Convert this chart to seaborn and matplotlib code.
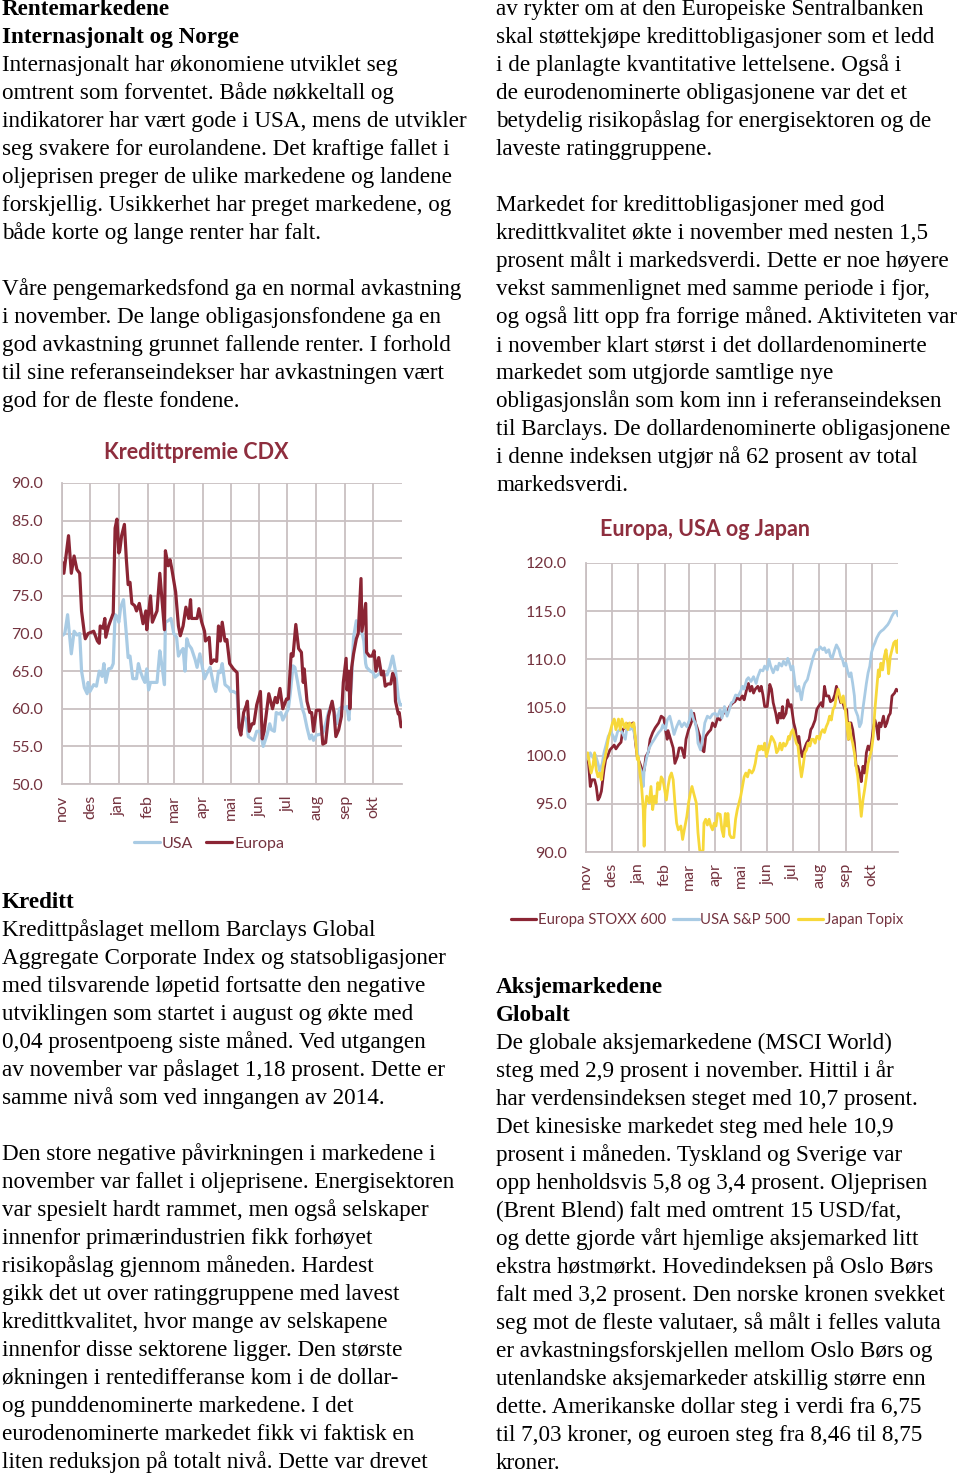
import matplotlib
matplotlib.use("Agg")
import matplotlib.pyplot as plt
import seaborn as sns
import numpy as np
from matplotlib.lines import Line2D

# ---------------- DATA ----------------
months = ["nov", "des", "jan", "feb", "mar", "apr", "mai", "jun", "jul", "aug", "sep", "okt"]
month_start_day = [0, 30, 61, 92, 120, 151, 181, 212, 242, 273, 304, 334]

# Kredittpremie CDX (day since 1 Nov, value)
cdx_europa = [
    (0, 79.5), (2, 78), (7, 83), (10, 78), (13, 80.3), (16, 78.5), (19, 78), (21, 73), (24, 70), (25, 69.3),
    (28, 70), (34, 70.3), (38, 69), (40, 68.7), (41, 71), (44, 70.7), (46, 72), (47, 69.5), (50, 71), (53, 72),
    (55, 72.7), (57, 84), (59, 85.2), (61, 80.7), (62, 81), (64, 83), (67, 84.5), (69, 80), (71, 76.5), (73, 76.8),
    (75, 74), (78, 73.7), (80, 73), (83, 74), (86, 72), (87, 71.3), (90, 73), (91, 70.5), (95, 75), (97, 71.5),
    (102, 73), (105, 78), (107, 75), (110, 70.5), (111, 81), (114, 79), (116, 79.8), (118, 78.5), (122, 75.5),
    (125, 71), (127, 69.7), (130, 71), (133, 73.5), (136, 72), (138, 74.5), (139, 72), (145, 72), (147, 73.3),
    (150, 71.5), (153, 70.3), (154, 69), (158, 69.5), (160, 66), (163, 66.5), (166, 66.3), (168, 71), (170, 69),
    (172, 71.5), (175, 69), (177, 69.2), (180, 66), (184, 65.3), (188, 64.8), (190, 57.5), (192, 56.5), (195, 59.5),
    (198, 60.5), (199, 61), (201, 57), (204, 58), (206, 58), (209, 60.5), (213, 62.3), (215, 56), (217, 57),
    (222, 62), (226, 60), (229, 61.5), (231, 60.8), (234, 62.7), (237, 60), (241, 61.3), (243, 61.3), (246, 67.3),
    (248, 67), (251, 71.2), (254, 68), (257, 67.5), (259, 63.5), (260, 65.3), (263, 61), (266, 59.5), (268, 59.5),
    (270, 57), (273, 59.8), (277, 59.8), (280, 55.3), (283, 55.5), (286, 59), (290, 61), (292, 59.5), (294, 56.3),
    (297, 57.2), (300, 59), (302, 63.5), (305, 66.7), (306, 62.5), (308, 65), (309, 60), (311, 65.5), (313, 67.3),
    (316, 69.3), (318, 70), (321, 77.3), (322, 70.3), (326, 74), (327, 67.5), (330, 67), (333, 67), (335, 67.7),
    (337, 65), (340, 66.8), (343, 64.5), (345, 65), (347, 63), (350, 63.3), (353, 63.3), (355, 64.7), (357, 64),
    (358, 61), (361, 59.3), (362, 59.5), (364, 57.6),
]
cdx_usa = [
    (0, 69.7), (3, 70), (6, 72.5), (9, 68.5), (10, 67.3), (13, 70.3), (16, 69.8), (19, 70), (21, 65), (24, 62.8),
    (27, 62), (28, 63.5), (30, 62.3), (34, 63.2), (37, 63), (40, 65), (43, 64.3), (45, 66), (47, 63.5), (50, 65.3),
    (53, 65.4), (55, 66), (57, 72.5), (59, 72.3), (61, 71.5), (63, 73.5), (66, 74.5), (69, 70), (71, 66.8), (73, 67),
    (76, 64), (80, 64), (82, 66), (84, 65), (87, 64), (89, 63.5), (91, 65.3), (93, 62.5), (95, 63.5), (98, 63.5),
    (102, 63.5), (105, 67.7), (107, 66), (110, 63.2), (111, 71.5), (114, 71.7), (117, 72), (120, 70), (123, 69.5),
    (125, 67), (127, 67.5), (130, 68), (132, 65), (134, 69.3), (136, 68.5), (139, 68), (143, 66.5), (145, 65.5),
    (148, 67.3), (150, 66), (153, 64), (156, 64.8), (159, 65.5), (163, 63), (165, 62.3), (168, 65), (170, 64.8),
    (172, 66), (175, 63.2), (179, 62.8), (181, 62.3), (184, 62.3), (188, 62), (190, 57.5), (192, 57), (195, 59),
    (198, 58.5), (200, 56.3), (206, 55.8), (209, 57), (213, 57), (216, 55), (220, 56.5), (223, 58), (225, 57.2),
    (228, 57), (230, 59.5), (233, 59.3), (235, 59.5), (237, 58.5), (241, 59.5), (243, 60), (245, 62), (248, 65.7),
    (250, 65.5), (253, 63.5), (255, 62), (258, 60), (260, 59.3), (263, 57.5), (266, 56), (268, 56.5), (270, 55.8),
    (273, 56.5), (277, 56.6), (280, 56.8), (283, 58), (286, 59.5), (289, 60.5), (292, 59.8), (295, 58), (298, 60),
    (301, 60.3), (304, 60), (306, 60.3), (308, 58.5), (311, 64), (313, 69.5), (316, 71.7), (318, 71.3), (321, 70.7),
    (324, 69), (326, 66), (327, 65.5), (331, 65), (334, 64.8), (336, 64.2), (339, 64.5), (342, 64.8), (345, 64.5),
    (349, 64.5), (352, 65.5), (355, 67), (358, 65), (361, 61.5), (363, 60.5), (365, 60.5),
]

# Europa, USA og Japan (index, 1 Nov = 100)
stoxx600 = [
    (0, 100.0), (3, 99.2), (5, 96.8), (7, 97.5), (10, 97.5), (12, 96.8), (14, 95.4), (16, 95.7), (18, 96.3),
    (21, 98.5), (23, 99.6), (25, 99.9), (28, 100.6), (30, 100.8), (33, 101.1), (35, 100.7), (38, 101.1), (41, 101.4),
    (43, 102.7), (46, 103.0), (49, 103.3), (52, 103.2), (55, 103.4), (56, 103.0), (58, 101.3), (60, 99.9), (63, 99.2),
    (67, 98.2), (68, 98.5), (70, 99.9), (73, 100.4), (75, 101.7), (78, 102.4), (81, 102.9), (85, 103.4), (88, 104.1),
    (91, 103.9), (93, 102.7), (95, 101.7), (96, 102.6), (99, 101.7), (102, 100.8), (104, 99.2), (107, 99.9),
    (109, 100.8), (112, 100.8), (115, 99.8), (117, 101.7), (120, 102.7), (123, 103.4), (126, 104.4), (128, 103.4),
    (130, 102.9), (133, 102.0), (136, 100.6), (138, 100.4), (140, 102.0), (143, 102.4), (146, 102.7), (148, 103.4),
    (151, 103.0), (154, 103.9), (157, 103.7), (160, 104.3), (163, 104.6), (165, 104.4), (168, 105.1), (172, 105.5),
    (174, 105.6), (177, 106.0), (180, 105.8), (183, 106.2), (185, 105.8), (188, 106.9), (190, 107.5), (192, 106.7),
    (194, 107.2), (196, 106.5), (198, 106.9), (201, 107.2), (203, 106.7), (205, 107.2), (207, 106.3), (209, 105.1),
    (212, 105.1), (215, 107.4), (217, 106.9), (219, 105.5), (222, 104.4), (224, 103.4), (226, 104.4), (228, 103.9),
    (230, 105.1), (231, 103.9), (234, 104.4), (236, 105.8), (238, 105.1), (240, 105.3), (243, 103.4), (245, 102.7),
    (247, 101.3), (249, 102.0), (251, 100.6), (253, 99.9), (255, 100.6), (258, 101.3), (261, 101.7), (263, 102.7),
    (265, 103.0), (268, 103.7), (270, 104.8), (272, 105.1), (275, 105.5), (277, 105.1), (279, 107.2), (281, 106.2),
    (284, 106.2), (286, 105.6), (289, 105.8), (291, 106.3), (293, 107.2), (296, 106.2), (298, 105.5), (300, 105.6),
    (303, 104.8), (305, 104.8), (307, 101.7), (308, 103.4), (310, 103.4), (312, 102.7), (314, 101.3), (316, 98.9),
    (318, 98.9), (320, 98.2), (322, 97.3), (324, 98.9), (326, 98.2), (328, 100.3), (330, 101.0), (332, 100.6),
    (334, 101.3), (336, 102.7), (338, 103.7), (340, 103.0), (342, 101.7), (343, 103.4), (345, 103.0), (348, 104.1),
    (350, 103.0), (352, 103.4), (354, 104.1), (356, 104.4), (358, 106.2), (361, 106.5), (363, 106.9), (365, 106.7),
]
sp500 = [
    (0, 100.0), (3, 99.6), (5, 100.3), (8, 99.8), (11, 100.1), (14, 99.2), (16, 98.4), (19, 99.2), (21, 100.3),
    (24, 101.3), (26, 102.0), (29, 102.5), (32, 102.0), (34, 101.5), (37, 102.5), (40, 102.7), (43, 102.3),
    (46, 101.7), (48, 103.0), (51, 102.7), (54, 102.9), (56, 102.5), (60, 100.6), (62, 99.1), (65, 98.2), (67, 96.8),
    (68, 98.5), (71, 99.8), (74, 100.8), (77, 101.3), (80, 101.7), (82, 102.0), (85, 102.4), (88, 102.7), (90, 103.2),
    (93, 102.7), (95, 103.7), (98, 104.1), (100, 103.4), (103, 102.2), (106, 103.0), (109, 103.6), (112, 103.0),
    (115, 103.4), (118, 103.0), (121, 103.7), (123, 104.7), (126, 103.7), (128, 103.4), (130, 102.4), (131, 101.3),
    (134, 100.6), (137, 102.0), (139, 103.4), (142, 104.1), (145, 103.9), (148, 104.3), (151, 104.4), (154, 104.1),
    (157, 104.8), (159, 103.9), (162, 105.1), (165, 104.1), (167, 104.6), (170, 105.5), (172, 105.6), (175, 106.3),
    (178, 106.2), (181, 106.7), (183, 107.2), (185, 106.9), (188, 107.9), (190, 108.1), (193, 107.7), (196, 108.2),
    (199, 107.5), (201, 108.2), (204, 108.9), (207, 108.8), (209, 109.3), (212, 108.9), (214, 110.0), (216, 109.3),
    (219, 108.6), (222, 109.3), (224, 108.9), (226, 109.6), (229, 109.3), (231, 109.8), (234, 109.4), (236, 110.1),
    (238, 109.6), (240, 108.9), (242, 109.3), (244, 107.9), (245, 107.2), (247, 106.7), (249, 107.2), (252, 105.8),
    (254, 106.9), (256, 107.5), (259, 107.9), (261, 108.6), (264, 109.6), (266, 110.3), (269, 111.0), (272, 111.0),
    (274, 111.3), (277, 111.0), (279, 111.2), (281, 110.7), (284, 111.0), (286, 110.3), (288, 110.1), (291, 111.0),
    (293, 111.5), (296, 111.0), (298, 110.3), (300, 110.0), (302, 109.3), (304, 109.6), (306, 108.8), (308, 108.2),
    (310, 108.6), (312, 107.5), (314, 106.2), (315, 104.8), (318, 104.1), (320, 103.0), (322, 103.4), (324, 104.9),
    (326, 106.2), (328, 107.5), (330, 108.6), (332, 109.3), (334, 110.7), (336, 111.3), (338, 111.7), (340, 112.2),
    (343, 112.7), (345, 112.9), (348, 113.1), (351, 113.4), (353, 113.6), (355, 113.9), (358, 114.5), (360, 114.8),
    (363, 115.0), (365, 114.5),
]
topix = [
    (0, 100.0), (2, 100.3), (4, 99.2), (6, 98.2), (8, 98.9), (10, 100.3), (12, 98.5), (14, 97.8), (16, 98.2),
    (18, 97.5), (20, 98.9), (22, 99.7), (24, 100.6), (26, 101.7), (28, 102.4), (31, 103.4), (33, 103.8), (35, 102.7),
    (38, 103.8), (40, 102.7), (42, 103.8), (45, 102.9), (47, 103.4), (49, 102.7), (51, 103.4), (54, 103.0),
    (56, 103.4), (58, 101.7), (60, 99.6), (61, 99.9), (63, 98.2), (65, 96.8), (67, 94.4), (68, 90.6), (69, 94.4),
    (71, 95.8), (74, 95.1), (76, 96.8), (78, 94.4), (80, 95.8), (82, 95.1), (84, 97.2), (86, 96.5), (88, 97.8),
    (90, 97.5), (92, 96.5), (94, 95.4), (96, 96.8), (98, 97.8), (100, 98.2), (102, 97.5), (104, 95.1), (106, 93.0),
    (108, 92.3), (111, 92.7), (113, 91.3), (115, 92.3), (118, 93.7), (120, 95.1), (122, 96.1), (124, 96.8),
    (126, 96.1), (129, 95.1), (131, 92.0), (133, 90.2), (135, 90.0), (137, 90.2), (138, 93.0), (140, 93.4),
    (142, 92.8), (144, 93.4), (146, 92.7), (148, 92.3), (150, 93.0), (152, 92.7), (154, 94.0), (157, 93.9),
    (159, 92.3), (161, 91.6), (163, 94.0), (165, 92.7), (166, 94.0), (168, 91.8), (170, 91.5), (173, 91.5),
    (175, 93.4), (177, 94.4), (179, 95.1), (181, 95.8), (183, 96.8), (185, 97.8), (187, 98.2), (189, 97.8),
    (191, 98.5), (194, 98.2), (196, 98.5), (198, 99.2), (200, 100.3), (202, 101.0), (203, 100.6), (205, 101.0),
    (207, 100.6), (209, 101.3), (211, 99.9), (213, 100.6), (215, 101.3), (217, 102.0), (219, 101.7), (221, 101.3),
    (223, 100.3), (225, 100.6), (227, 101.3), (229, 100.6), (231, 101.3), (233, 101.0), (235, 101.3), (237, 102.0),
    (238, 101.7), (240, 102.4), (242, 102.7), (244, 102.0), (246, 101.3), (248, 101.0), (250, 99.2), (252, 97.8),
    (254, 98.9), (256, 100.3), (258, 100.6), (260, 101.3), (262, 101.0), (264, 101.7), (266, 101.7), (268, 101.3),
    (270, 102.0), (272, 102.0), (273, 101.7), (275, 102.4), (277, 102.7), (279, 102.4), (281, 103.0), (283, 103.4),
    (285, 104.1), (287, 103.7), (289, 104.8), (291, 105.1), (293, 106.2), (295, 106.9), (297, 106.2), (299, 105.5),
    (301, 106.2), (303, 105.1), (305, 103.4), (307, 101.7), (308, 103.4), (310, 102.0), (312, 101.3), (314, 100.3),
    (316, 98.9), (318, 97.8), (320, 95.8), (322, 93.7), (324, 95.4), (326, 96.5), (328, 97.8), (330, 99.2),
    (332, 99.9), (334, 100.6), (336, 102.0), (338, 104.8), (340, 106.9), (342, 108.9), (343, 108.2), (345, 109.6),
    (347, 108.9), (349, 110.3), (351, 111.0), (353, 109.6), (354, 108.5), (356, 110.3), (358, 111.0), (360, 111.7),
    (362, 111.9), (364, 110.7), (365, 112.0),
]

cdx_ticks = [50, 55, 60, 65, 70, 75, 80, 85, 90]
eq_ticks = [90, 95, 100, 105, 110, 115, 120]

# ---------------- TEXT ----------------
left_top = [
    ("Rentemarkedene", True), ("Internasjonalt og Norge", True),
    ("Internasjonalt har økonomiene utviklet seg", False),
    ("omtrent som forventet. Både nøkkeltall og", False),
    ("indikatorer har vært gode i USA, mens de utvikler", False),
    ("seg svakere for eurolandene. Det kraftige fallet i", False),
    ("oljeprisen preger de ulike markedene og landene", False),
    ("forskjellig. Usikkerhet har preget markedene, og", False),
    ("både korte og lange renter har falt.", False),
    ("", False),
    ("Våre pengemarkedsfond ga en normal avkastning", False),
    ("i november. De lange obligasjonsfondene ga en", False),
    ("god avkastning grunnet fallende renter. I forhold", False),
    ("til sine referanseindekser har avkastningen vært", False),
    ("god for de fleste fondene.", False),
]
left_bottom = [
    ("Kreditt", True),
    ("Kredittpåslaget mellom Barclays Global", False),
    ("Aggregate Corporate Index og statsobligasjoner", False),
    ("med tilsvarende løpetid fortsatte den negative", False),
    ("utviklingen som startet i august og økte med", False),
    ("0,04 prosentpoeng siste måned. Ved utgangen", False),
    ("av november var påslaget 1,18 prosent. Dette er", False),
    ("samme nivå som ved inngangen av 2014.", False),
    ("", False),
    ("Den store negative påvirkningen i markedene i", False),
    ("november var fallet i oljeprisene. Energisektoren", False),
    ("var spesielt hardt rammet, men også selskaper", False),
    ("innenfor primærindustrien fikk forhøyet", False),
    ("risikopåslag gjennom måneden. Hardest", False),
    ("gikk det ut over ratinggruppene med lavest", False),
    ("kredittkvalitet, hvor mange av selskapene", False),
    ("innenfor disse sektorene ligger. Den største", False),
    ("økningen i rentedifferanse kom i de dollar-", False),
    ("og punddenominerte markedene. I det", False),
    ("eurodenominerte markedet fikk vi faktisk en", False),
    ("liten reduksjon på totalt nivå. Dette var drevet", False),
]
right_top = [
    ("av rykter om at den Europeiske Sentralbanken", False),
    ("skal støttekjøpe kredittobligasjoner som et ledd", False),
    ("i de planlagte kvantitative lettelsene. Også i", False),
    ("de eurodenominerte obligasjonene var det et", False),
    ("betydelig risikopåslag for energisektoren og de", False),
    ("laveste ratinggruppene.", False),
    ("", False),
    ("Markedet for kredittobligasjoner med god", False),
    ("kredittkvalitet økte i november med nesten 1,5", False),
    ("prosent målt i markedsverdi. Dette er noe høyere", False),
    ("vekst sammenlignet med samme periode i fjor,", False),
    ("og også litt opp fra forrige måned. Aktiviteten var", False),
    ("i november klart størst i det dollardenominerte", False),
    ("markedet som utgjorde samtlige nye", False),
    ("obligasjonslån som kom inn i referanseindeksen", False),
    ("til Barclays. De dollardenominerte obligasjonene", False),
    ("i denne indeksen utgjør nå 62 prosent av total", False),
    ("markedsverdi.", False),
]
right_bottom = [
    ("Aksjemarkedene", True), ("Globalt", True),
    ("De globale aksjemarkedene (MSCI World)", False),
    ("steg med 2,9 prosent i november. Hittil i år", False),
    ("har verdensindeksen steget med 10,7 prosent.", False),
    ("Det kinesiske markedet steg med hele 10,9", False),
    ("prosent i måneden. Tyskland og Sverige var", False),
    ("opp henholdsvis 5,8 og 3,4 prosent. Oljeprisen", False),
    ("(Brent Blend) falt med omtrent 15 USD/fat,", False),
    ("og dette gjorde vårt hjemlige aksjemarked litt", False),
    ("ekstra høstmørkt. Hovedindeksen på Oslo Børs", False),
    ("falt med 3,2 prosent. Den norske kronen svekket", False),
    ("seg mot de fleste valutaer, så målt i felles valuta", False),
    ("er avkastningsforskjellen mellom Oslo Børs og", False),
    ("utenlandske aksjemarkeder atskillig større enn", False),
    ("dette. Amerikanske dollar steg i verdi fra 6,75", False),
    ("til 7,03 kroner, og euroen steg fra 8,46 til 8,75", False),
    ("kroner.", False),
]

# ---------------- STYLE ----------------
sns.set_style("white")
plt.rcParams["font.family"] = ["Lato", "DejaVu Sans"]

W, H = 960, 1473
EU_RED = "#8B2534"
US_BLUE = "#A9CBE4"
JP_YEL = "#F7D83A"
GRID = "#C9C0C2"
LBL = "#74333F"
TITLE = "#8E2E3E"
SERIF = ["Liberation Serif", "DejaVu Serif"]
BODY_PT = 16.7
LINE_H = 28

fig = plt.figure(figsize=(W / 100, H / 100), dpi=100)
fig.patch.set_facecolor("white")


def draw_block(lines, x0, base0):
    for i, (s, bold) in enumerate(lines):
        if not s:
            continue
        fig.text(x0 / W, 1 - (base0 + i * LINE_H) / H, s, ha="left", va="baseline",
                 fontsize=BODY_PT, family=SERIF, fontweight="bold" if bold else "normal", color="black")


draw_block(left_top, 2, 15)
draw_block(left_bottom, 2, 908)
draw_block(right_top, 496, 15)
draw_block(right_bottom, 496, 993)


def style_axes(ax, ylo, yhi, ticks):
    ax.set_xlim(0, 365)
    ax.set_ylim(ylo, yhi)
    ax.set_yticks(ticks)
    ax.set_yticklabels([f"{t:.1f}" for t in ticks])
    ax.set_xticks(month_start_day)
    ax.set_xticklabels(months, rotation=90)
    ax.grid(True, color=GRID, linewidth=1.3)
    ax.set_axisbelow(True)
    for side in ["top", "right"]:
        ax.spines[side].set_visible(False)
    for side in ["left", "bottom"]:
        ax.spines[side].set_color(GRID)
        ax.spines[side].set_linewidth(1.3)
    ax.tick_params(axis="x", length=5, width=1.3, color=GRID, pad=3, labelsize=11.5, labelcolor=LBL)
    ax.tick_params(axis="y", length=0, pad=14, labelsize=11.5, labelcolor=LBL)
    for lab in ax.get_xticklabels():
        lab.set_va("top")
    ax.set_xlabel("")
    ax.set_ylabel("")
    ax.set_facecolor("white")


def plot_series(ax, pairs, color, lw):
    d = [p[0] for p in pairs]
    v = [p[1] for p in pairs]
    sns.lineplot(x=d, y=v, ax=ax, color=color, linewidth=lw, estimator=None, sort=False, legend=False)


# Chart 1: Kredittpremie CDX
ax1 = fig.add_axes([62 / W, 1 - 784 / H, 340 / W, 301 / H])
plot_series(ax1, cdx_usa, US_BLUE, 2.3)
plot_series(ax1, cdx_europa, EU_RED, 2.3)
style_axes(ax1, 50, 90, cdx_ticks)
fig.text(196 / W, 1 - 452 / H, "Kredittpremie CDX", ha="center", va="center",
         fontsize=15.5, fontweight="bold", color=TITLE)
h1 = [Line2D([], [], color=US_BLUE, lw=2.3), Line2D([], [], color=EU_RED, lw=2.3)]
fig.legend(h1, ["USA", "Europa"], loc="center", bbox_to_anchor=(209 / W, 1 - 844 / H), ncol=2,
           frameon=False, fontsize=11.5, labelcolor=LBL, handlelength=1.6, handletextpad=0.15,
           columnspacing=0.8)

# Chart 2: Europa, USA og Japan
ax2 = fig.add_axes([586 / W, 1 - 852 / H, 312 / W, 289 / H])
plot_series(ax2, stoxx600, EU_RED, 2.0)
plot_series(ax2, sp500, US_BLUE, 2.0)
plot_series(ax2, topix, JP_YEL, 2.0)
style_axes(ax2, 90, 120, eq_ticks)
fig.text(705 / W, 1 - 530 / H, "Europa, USA og Japan", ha="center", va="center",
         fontsize=15.5, fontweight="bold", color=TITLE)
h2 = [Line2D([], [], color=EU_RED, lw=2.3), Line2D([], [], color=US_BLUE, lw=2.3),
      Line2D([], [], color=JP_YEL, lw=2.3)]
fig.legend(h2, ["Europa STOXX 600", "USA S&P 500", "Japan Topix"], loc="center",
           bbox_to_anchor=(707 / W, 1 - 920 / H), ncol=3, frameon=False, fontsize=10.7,
           labelcolor=LBL, handlelength=1.7, handletextpad=0.1, columnspacing=0.5)

fig.savefig("out.png", dpi=100, facecolor="white")
